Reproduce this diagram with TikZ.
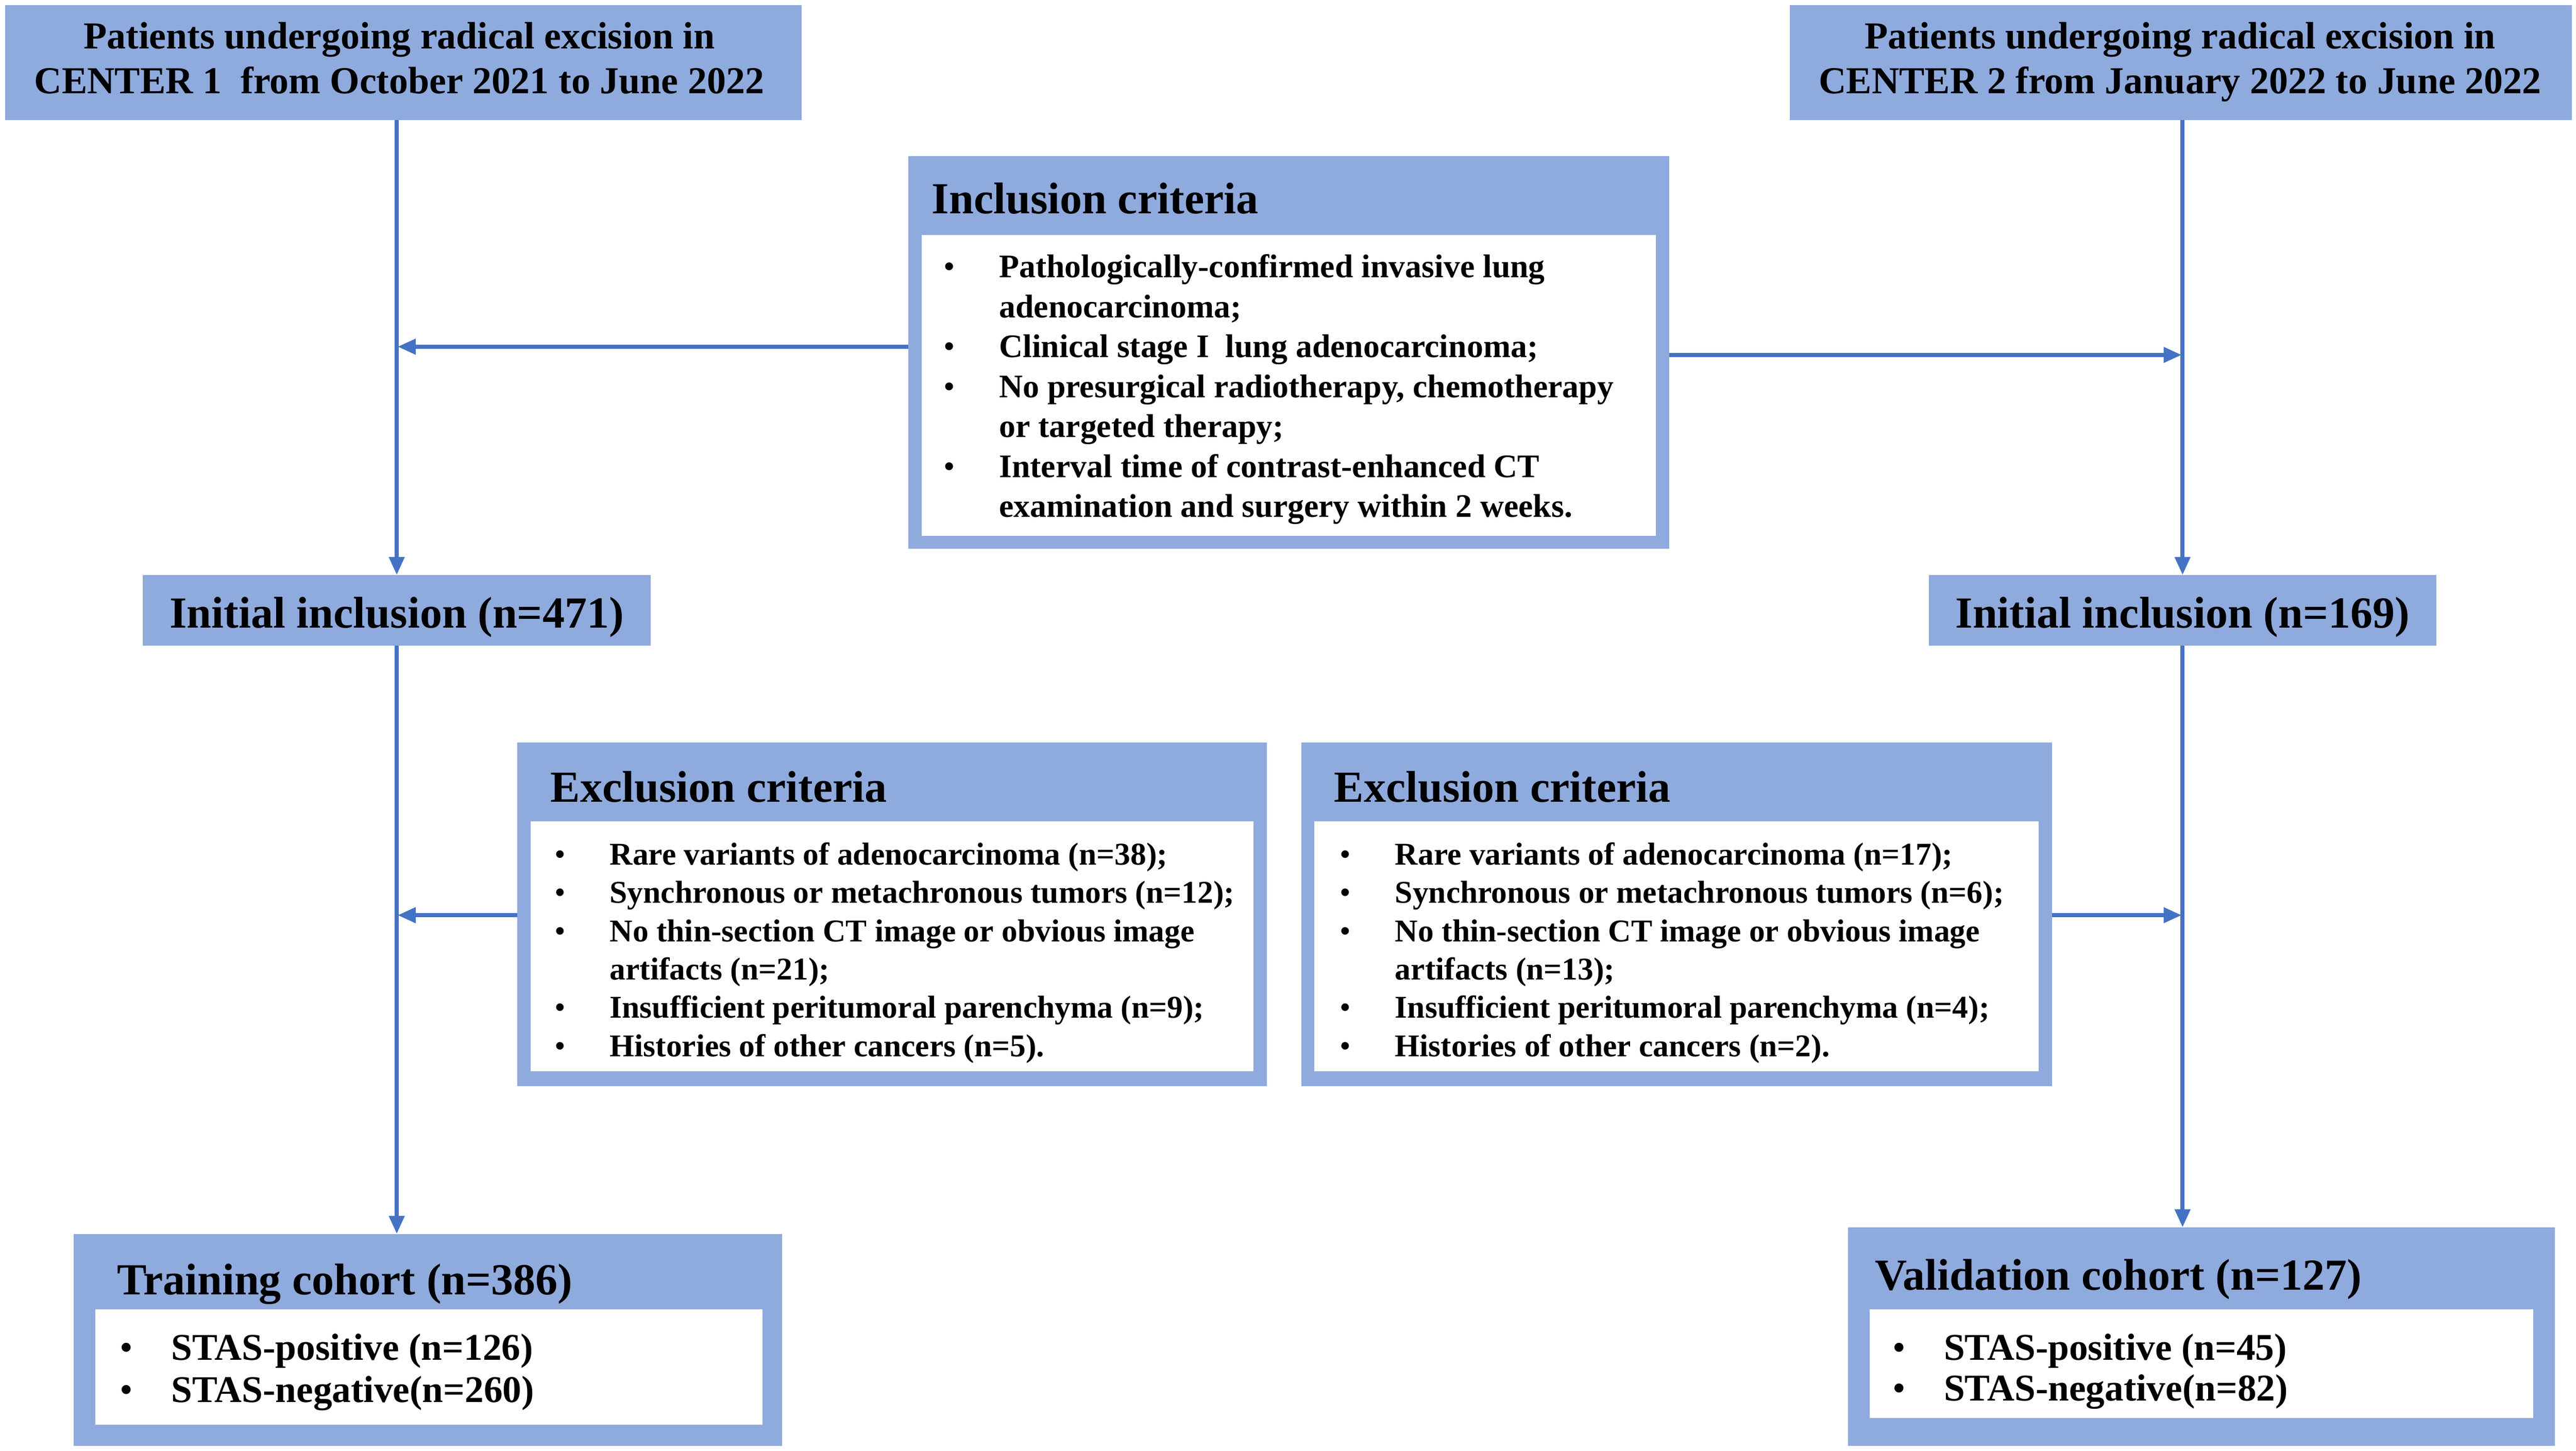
\documentclass[tikz,border=0pt]{standalone}
\usepackage{fontspec}
\setmainfont{Liberation Serif}
\usetikzlibrary{arrows.meta}
\definecolor{boxblue}{HTML}{8FAADC}
\definecolor{arrblue}{HTML}{4472C4}
\begin{document}
\begin{tikzpicture}[x=1pt,y=-1pt,
  bluebox/.style={fill=boxblue, draw=none, inner sep=0pt, outer sep=0pt, anchor=north west},
  whitebox/.style={fill=white, draw=none, inner sep=0pt, outer sep=0pt, anchor=north west},
  ftop/.style={inner sep=0pt, anchor=base, font=\fontsize{23.2}{27}\selectfont\bfseries},
  ftitle/.style={inner sep=0pt, anchor=base west, font=\fontsize{27}{31}\selectfont\bfseries},
  finc/.style={inner sep=0pt, anchor=base west, font=\fontsize{20}{24}\selectfont\bfseries},
  fexc/.style={inner sep=0pt, anchor=base west, font=\fontsize{19.3}{23}\selectfont\bfseries},
  fstas/.style={inner sep=0pt, anchor=base west, font=\fontsize{23}{27}\selectfont\bfseries},
  bul/.style={inner sep=0pt, anchor=base},
  conn/.style={draw=arrblue, line width=2.6pt, -{Triangle[length=11pt,width=9pt]}}]
\useasboundingbox (0,0) rectangle (1568,883);
\fill[white] (0,0) rectangle (1568,883);

% top boxes
\node[bluebox, minimum width=485pt, minimum height=70pt] (c1) at (3,3) {};
\node[ftop] (c1a) at (243,29.5) {Patients undergoing radical excision in};
\node[ftop] (c1b) at (243,57) {CENTER 1\ \ from October 2021 to June 2022};
\node[bluebox, minimum width=476pt, minimum height=70pt] (c2) at (1089.5,3) {};
\node[ftop] (c2a) at (1327,29.5) {Patients undergoing radical excision in};
\node[ftop] (c2b) at (1327,57) {CENTER 2 from January 2022 to June 2022};

% inclusion criteria
\node[bluebox, minimum width=463pt, minimum height=239pt] (inc) at (553,95) {};
\node[whitebox, minimum width=447pt, minimum height=183pt] (incw) at (561,143) {};
\node[ftitle] (inct) at (567,130) {Inclusion criteria};
\node[bul, font=\fontsize{20}{24}\selectfont] (ib1) at (578,169) {•};
\node[finc] (i1) at (608,169) {Pathologically-confirmed invasive lung};
\node[finc] (i2) at (608,193.3) {adenocarcinoma;};
\node[bul, font=\fontsize{20}{24}\selectfont] (ib2) at (578,217.6) {•};
\node[finc] (i3) at (608,217.6) {Clinical stage I\ \ lung adenocarcinoma;};
\node[bul, font=\fontsize{20}{24}\selectfont] (ib3) at (578,241.9) {•};
\node[finc] (i4) at (608,241.9) {No presurgical radiotherapy, chemotherapy};
\node[finc] (i5) at (608,266.2) {or targeted therapy;};
\node[bul, font=\fontsize{20}{24}\selectfont] (ib4) at (578,290.5) {•};
\node[finc] (i6) at (608,290.5) {Interval time of contrast-enhanced CT};
\node[finc] (i7) at (608,314.8) {examination and surgery within 2 weeks.};

% initial inclusion
\node[bluebox, minimum width=309pt, minimum height=43pt] (ini1) at (87,350) {};
\node[inner sep=0pt, anchor=base, font=\fontsize{27}{31}\selectfont\bfseries] (ini1t) at (241.5,382) {Initial inclusion (n=471)};
\node[bluebox, minimum width=309pt, minimum height=43pt] (ini2) at (1174,350) {};
\node[inner sep=0pt, anchor=base, font=\fontsize{27}{31}\selectfont\bfseries] (ini2t) at (1328.5,382) {Initial inclusion (n=169)};

% exclusion left
\node[bluebox, minimum width=456pt, minimum height=209pt] (exl) at (315,452) {};
\node[whitebox, minimum width=440pt, minimum height=152pt] (exlw) at (323,500) {};
\node[ftitle] (exlt) at (335,488) {Exclusion criteria};
\node[bul, font=\fontsize{19.3}{23}\selectfont] (lb1) at (341,526.4) {•};
\node[fexc] (l1) at (371,526.4) {Rare variants of adenocarcinoma (n=38);};
\node[bul, font=\fontsize{19.3}{23}\selectfont] (lb2) at (341,549.7) {•};
\node[fexc] (l2) at (371,549.7) {Synchronous or metachronous tumors (n=12);};
\node[bul, font=\fontsize{19.3}{23}\selectfont] (lb3) at (341,573) {•};
\node[fexc] (l3) at (371,573) {No thin-section CT image or obvious image};
\node[fexc] (l4) at (371,596.3) {artifacts (n=21);};
\node[bul, font=\fontsize{19.3}{23}\selectfont] (lb4) at (341,619.6) {•};
\node[fexc] (l5) at (371,619.6) {Insufficient peritumoral parenchyma (n=9);};
\node[bul, font=\fontsize{19.3}{23}\selectfont] (lb5) at (341,642.9) {•};
\node[fexc] (l6) at (371,642.9) {Histories of other cancers (n=5).};

% exclusion right
\node[bluebox, minimum width=457pt, minimum height=209pt] (exr) at (792,452) {};
\node[whitebox, minimum width=441pt, minimum height=152pt] (exrw) at (800,500) {};
\node[ftitle] (exrt) at (812,488) {Exclusion criteria};
\node[bul, font=\fontsize{19.3}{23}\selectfont] (rb1) at (819,526.4) {•};
\node[fexc] (r1) at (849,526.4) {Rare variants of adenocarcinoma (n=17);};
\node[bul, font=\fontsize{19.3}{23}\selectfont] (rb2) at (819,549.7) {•};
\node[fexc] (r2) at (849,549.7) {Synchronous or metachronous tumors (n=6);};
\node[bul, font=\fontsize{19.3}{23}\selectfont] (rb3) at (819,573) {•};
\node[fexc] (r3) at (849,573) {No thin-section CT image or obvious image};
\node[fexc] (r4) at (849,596.3) {artifacts (n=13);};
\node[bul, font=\fontsize{19.3}{23}\selectfont] (rb4) at (819,619.6) {•};
\node[fexc] (r5) at (849,619.6) {Insufficient peritumoral parenchyma (n=4);};
\node[bul, font=\fontsize{19.3}{23}\selectfont] (rb5) at (819,642.9) {•};
\node[fexc] (r6) at (849,642.9) {Histories of other cancers (n=2).};

% training cohort
\node[bluebox, minimum width=431pt, minimum height=129pt] (tr) at (45,751) {};
\node[whitebox, minimum width=406pt, minimum height=70pt] (trw) at (58,797) {};
\node[ftitle] (trt) at (71,788) {Training cohort (n=386)};
\node[bul, font=\fontsize{23}{27}\selectfont] (tb1) at (77,827.6) {•};
\node[fstas] (t1) at (104,827.6) {STAS-positive (n=126)};
\node[bul, font=\fontsize{23}{27}\selectfont] (tb2) at (77,853.6) {•};
\node[fstas] (t2) at (104,853.6) {STAS-negative(n=260)};

% validation cohort
\node[bluebox, minimum width=430pt, minimum height=133pt] (va) at (1125,747) {};
\node[whitebox, minimum width=404pt, minimum height=66pt] (vaw) at (1138,797) {};
\node[ftitle] (vat) at (1141,785) {Validation cohort (n=127)};
\node[bul, font=\fontsize{23}{27}\selectfont] (vb1) at (1156,827.6) {•};
\node[fstas] (v1) at (1183,827.6) {STAS-positive (n=45)};
\node[bul, font=\fontsize{23}{27}\selectfont] (vb2) at (1156,852.6) {•};
\node[fstas] (v2) at (1183,852.6) {STAS-negative(n=82)};

% connectors
\coordinate (jl1) at (242,211);
\coordinate (jr1) at (1328,216);
\coordinate (jl2) at (242,557);
\coordinate (jr2) at (1328,557);
\draw[conn] (c1.south -| ini1.north) -- (ini1.north);
\draw[conn] (c2.south -| ini2.north) -- (ini2.north);
\draw[conn] (inc.west |- jl1) -- (jl1);
\draw[conn] (inc.east |- jr1) -- (jr1);
\draw[conn] (ini1.south) -- (ini1.south |- tr.north);
\draw[conn] (ini2.south) -- (ini2.south |- va.north);
\draw[conn] (exl.west |- jl2) -- (jl2);
\draw[conn] (exr.east |- jr2) -- (jr2);
\end{tikzpicture}
\end{document}
